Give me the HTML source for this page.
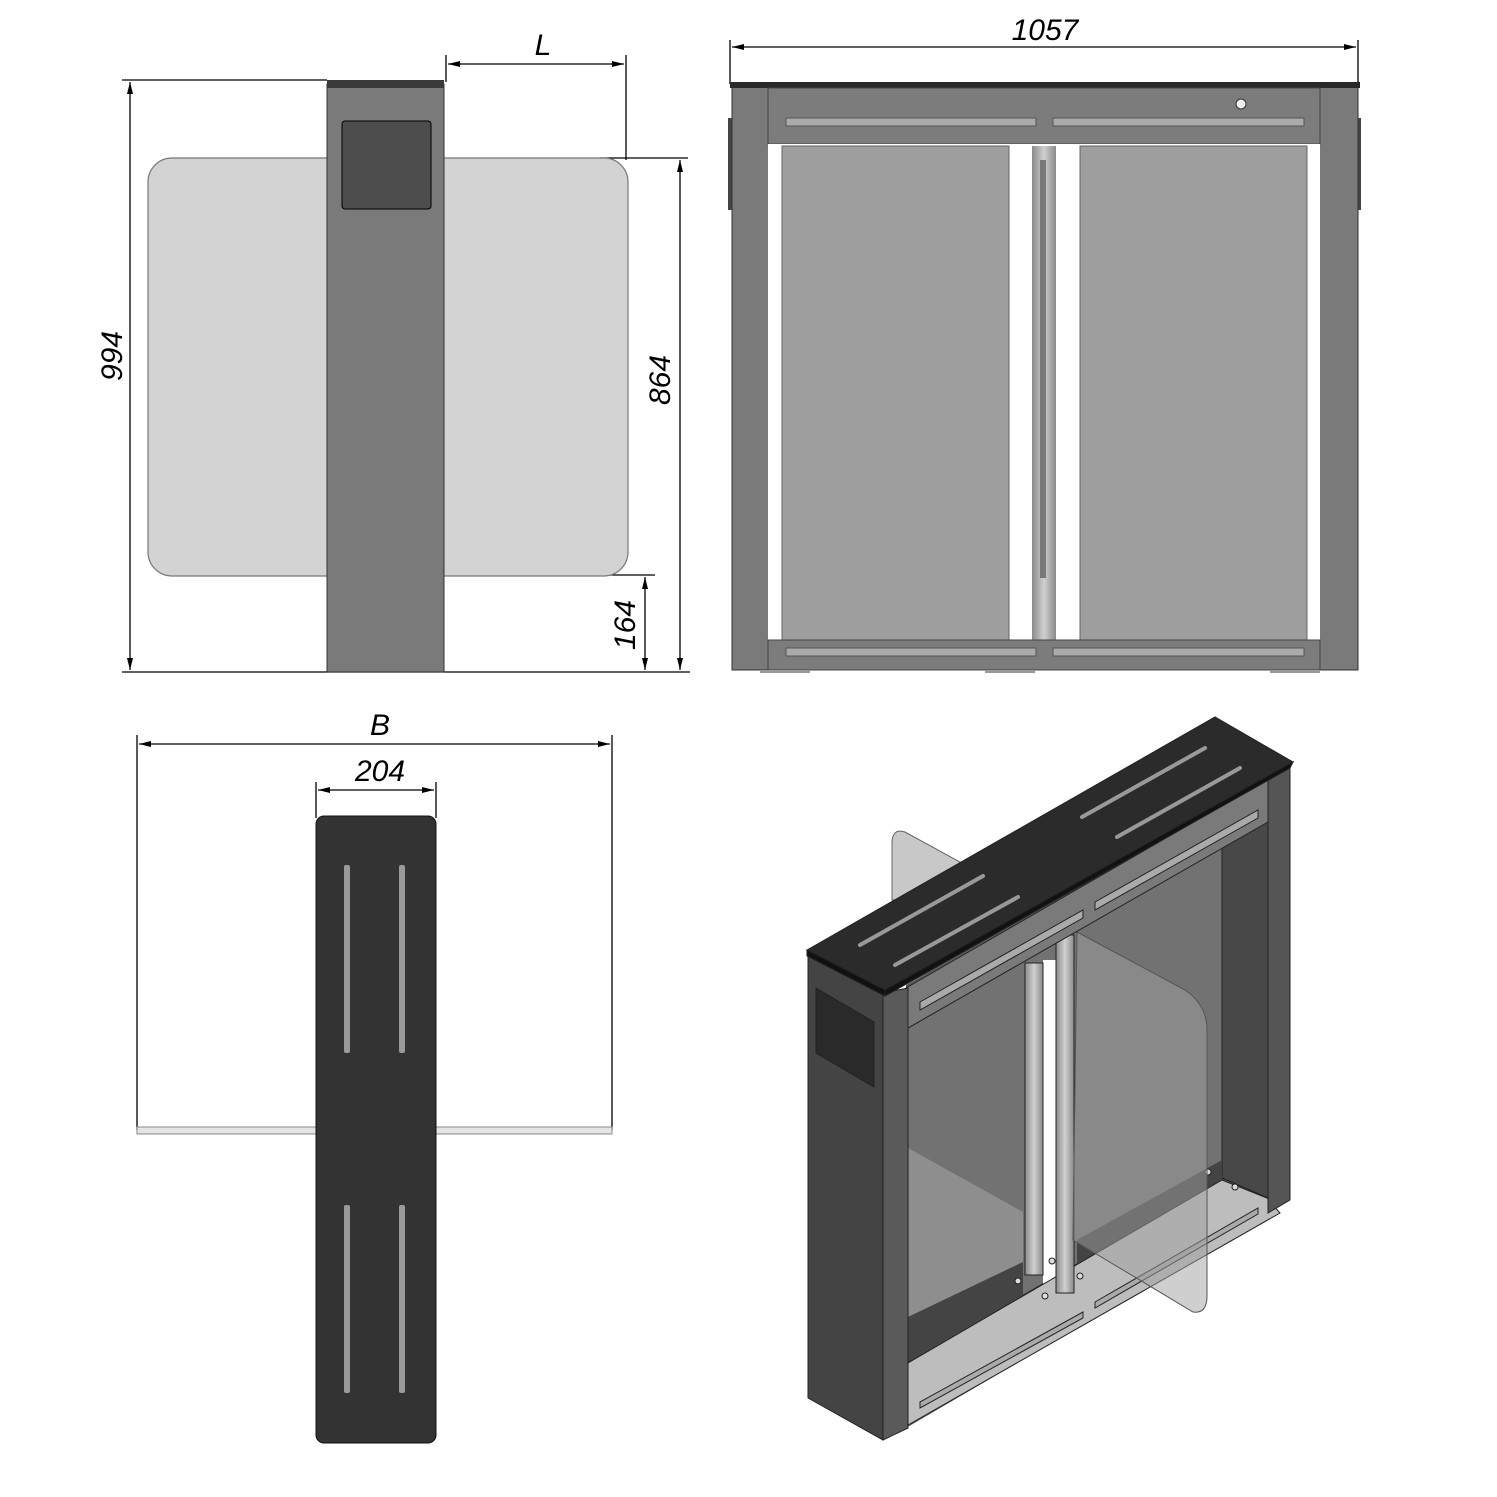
<!DOCTYPE html>
<html><head><meta charset="utf-8"><style>
html,body{margin:0;padding:0;background:#fff;}
svg{display:block;}
text{font-family:"Liberation Sans",sans-serif;font-style:italic;font-size:30px;fill:#000;}
</style></head><body>
<svg width="1497" height="1497" viewBox="0 0 1497 1497" xmlns="http://www.w3.org/2000/svg">
<defs>
<marker id="a" viewBox="0 0 12 6" refX="12" refY="3" markerWidth="12" markerHeight="6" orient="auto-start-reverse" markerUnits="userSpaceOnUse"><path d="M0,0 L12,3 L0,6 z" fill="#000"/></marker>
<linearGradient id="pole" x1="0" x2="1"><stop offset="0" stop-color="#8a8a8a"/><stop offset="0.5" stop-color="#d0d0d0"/><stop offset="1" stop-color="#8a8a8a"/></linearGradient>
</defs>
<g stroke="#000" stroke-width="1.3" fill="none">
<line x1="122" y1="80" x2="327" y2="80"/>
<line x1="122" y1="672" x2="690" y2="672"/>
<line x1="130" y1="82" x2="130" y2="670" marker-start="url(#a)" marker-end="url(#a)"/>
<line x1="446" y1="55" x2="446" y2="82"/><line x1="626" y1="55" x2="626" y2="160"/>
<line x1="448" y1="64" x2="624" y2="64" marker-start="url(#a)" marker-end="url(#a)"/>
<line x1="600" y1="158" x2="688" y2="158"/>
<line x1="680" y1="160" x2="680" y2="670" marker-start="url(#a)" marker-end="url(#a)"/>
<line x1="600" y1="575" x2="655" y2="575"/>
<line x1="645" y1="577" x2="645" y2="670" marker-start="url(#a)" marker-end="url(#a)"/>
<line x1="730" y1="40" x2="730" y2="84"/><line x1="1358" y1="40" x2="1358" y2="84"/>
<line x1="732" y1="47" x2="1356" y2="47" marker-start="url(#a)" marker-end="url(#a)"/>
<line x1="137" y1="735" x2="137" y2="1130"/><line x1="612" y1="735" x2="612" y2="1130"/>
<line x1="139" y1="744" x2="610" y2="744" marker-start="url(#a)" marker-end="url(#a)"/>
<line x1="316" y1="782" x2="316" y2="818"/><line x1="436" y1="782" x2="436" y2="818"/>
<line x1="318" y1="790" x2="434" y2="790" marker-start="url(#a)" marker-end="url(#a)"/>
</g>
<text x="0" y="0" transform="translate(122,356) rotate(-90)" text-anchor="middle">994</text>
<text x="543" y="55" text-anchor="middle">L</text>
<text x="0" y="0" transform="translate(670,380) rotate(-90)" text-anchor="middle">864</text>
<text x="0" y="0" transform="translate(635,625) rotate(-90)" text-anchor="middle">164</text>
<text x="1045" y="40" text-anchor="middle">1057</text>
<text x="380" y="735" text-anchor="middle">B</text>
<text x="380" y="781" text-anchor="middle">204</text>

<!-- view 1 -->
<rect x="148" y="158" width="480" height="418" rx="24" fill="#d3d3d3" stroke="#777" stroke-width="1.2"/>
<rect x="327" y="84" width="117" height="588" fill="#7a7a7a" stroke="#333"/>
<rect x="327" y="80" width="117" height="8" fill="#3a3a3a"/>
<rect x="342" y="121" width="89" height="88" rx="3" fill="#4d4d4d" stroke="#000"/>

<!-- view 2 -->
<rect x="728" y="118" width="5" height="92" fill="#444"/><rect x="1356" y="118" width="5" height="92" fill="#444"/>
<rect x="732" y="86" width="626" height="584" fill="#7a7a7a" stroke="#333"/>
<rect x="730" y="82" width="630" height="6" fill="#2a2a2a"/>
<rect x="768" y="88" width="552" height="56" fill="#7c7c7c" stroke="#444"/>
<rect x="786" y="118" width="250" height="8" fill="#aaa" stroke="#555"/>
<rect x="1053" y="118" width="251" height="8" fill="#aaa" stroke="#555"/>
<circle cx="1241" cy="104" r="5" fill="#eee" stroke="#333"/>
<rect x="768" y="144" width="552" height="496" fill="#fff"/>
<rect x="782" y="146" width="227" height="494" fill="#9e9e9e" stroke="#666"/>
<rect x="1080" y="146" width="227" height="494" fill="#9e9e9e" stroke="#666"/>
<rect x="1032" y="146" width="24" height="494" fill="url(#pole)"/>
<rect x="1040" y="160" width="6" height="418" fill="#777"/>
<rect x="768" y="640" width="552" height="30" fill="#7c7c7c" stroke="#444"/>
<rect x="786" y="648" width="250" height="8" fill="#aaa" stroke="#555"/>
<rect x="1053" y="648" width="251" height="8" fill="#aaa" stroke="#555"/>
<rect x="760" y="670" width="50" height="3" fill="#999"/><rect x="985" y="670" width="50" height="3" fill="#999"/><rect x="1270" y="670" width="50" height="3" fill="#999"/>

<!-- view 3 -->
<rect x="137" y="1127" width="475" height="7" fill="#e4e4e4" stroke="#888" stroke-width="1"/>
<rect x="316" y="816" width="120" height="627" rx="8" fill="#333" stroke="#111"/>
<rect x="344" y="865" width="6" height="188" rx="2" fill="#9a9a9a"/>
<rect x="399" y="865" width="6" height="188" rx="2" fill="#9a9a9a"/>
<rect x="344" y="1205" width="6" height="188" rx="2" fill="#9a9a9a"/>
<rect x="399" y="1205" width="6" height="188" rx="2" fill="#9a9a9a"/>

<!-- view 4 -->
<g stroke="#222" stroke-width="1">
<path d="M892,900 L892,843 Q892,828 905,832 L960,862 L960,900 Z" fill="#c8c8c8" stroke="#666"/>
<polygon points="906,985 1270,776 1270,1215 906,1428" fill="#5a5a5a" stroke="none"/>
<polygon points="1222,822 1268,800 1268,1198 1222,1178" fill="#484848"/>
<polygon points="1192,863 1222,848 1222,1178 1192,1160" fill="#262626"/>
<polygon points="908,1028 1192,863 1222,848 1222,1180 908,1362" fill="#727272"/>
<polygon points="908,1148 1023,1212 1023,1262 908,1317" fill="#8e8e8e" stroke="none"/>
<polygon points="908,1317 1023,1262 1023,1300 908,1362" fill="#444" stroke="none"/>
<polygon points="1077,1240 1222,1160 1222,1182 1077,1268" fill="#444" stroke="none"/>
<rect x="1043" y="960" width="14" height="330" fill="#fff" stroke="none"/>
<polygon points="908,1363 1222,1180 1267,1198 1280,1213 908,1425" fill="#bdbdbd"/>
<polygon points="920,1402 1083,1312 1083,1318 920,1408" fill="#aaa"/>
<polygon points="1095,1302 1258,1208 1258,1214 1095,1308" fill="#aaa"/>
<circle cx="1018" cy="1281" r="3" fill="#ddd"/><circle cx="1045" cy="1296" r="3" fill="#ddd"/>
<circle cx="1052" cy="1261" r="3" fill="#ddd"/><circle cx="1080" cy="1276" r="3" fill="#ddd"/>
<circle cx="1235" cy="1187" r="3" fill="#ddd"/><circle cx="1208" cy="1172" r="3" fill="#ddd"/>
<rect x="1025" y="963" width="18" height="312" fill="url(#pole)"/>
<rect x="1056" y="935" width="18" height="358" fill="url(#pole)"/>
<path d="M1077,932 L1185,990 Q1207,1005 1207,1030 L1207,1296 Q1207,1314 1193,1312 L1073,1240 Z" fill="rgba(160,160,160,0.5)" stroke="#555"/>
<polygon points="906,988 1270,778 1268,822 908,1028" fill="#7a7a7a"/>
<polygon points="920,1002 1083,910 1083,918 920,1010" fill="#aaa"/>
<polygon points="1095,902 1258,810 1258,818 1095,910" fill="#aaa"/>
<polygon points="1268,780 1290,767 1290,1200 1268,1213" fill="#555"/>
<polygon points="808,954 883,993 883,1440 808,1398" fill="#444"/>
<polygon points="883,993 908,988 908,1428 883,1440" fill="#5a5a5a"/>
<polygon points="816,988 874,1022 874,1087 816,1053" fill="#2a2a2a"/>
<polygon points="807,950 1215,717 1293,762 885,990" fill="#2b2b2b"/>
<polygon points="807,950 885,990 885,996 807,956" fill="#111"/>
<polygon points="885,990 1293,762 1290,768 885,996" fill="#111"/>
</g>
<g stroke="#999" stroke-width="4" stroke-linecap="round">
<line x1="860" y1="945" x2="983" y2="876"/>
<line x1="895" y1="965" x2="1018" y2="897"/>
<line x1="1082" y1="817" x2="1205" y2="748"/>
<line x1="1117" y1="837" x2="1240" y2="768"/>
</g>
</svg>
</body></html>
